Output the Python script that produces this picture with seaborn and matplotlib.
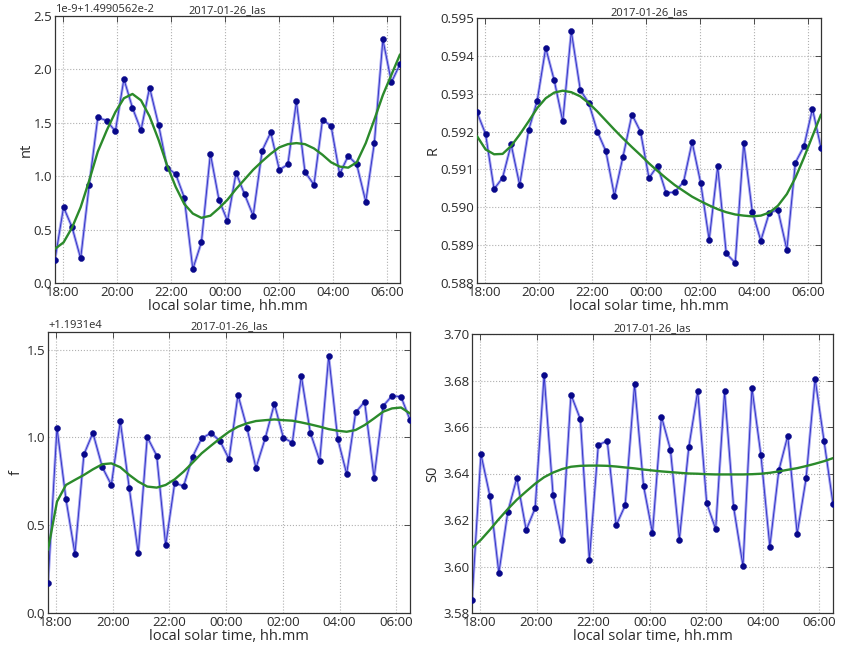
import matplotlib
matplotlib.use("Agg")
import matplotlib.pyplot as plt
import matplotlib.dates as mdates
import matplotlib.ticker as mticker
import pandas as pd
import seaborn as sns

# ---------------- data ----------------
times = ["2017-01-26 17:43", "2017-01-26 18:02", "2017-01-26 18:21", "2017-01-26 18:40",
         "2017-01-26 18:59", "2017-01-26 19:18", "2017-01-26 19:38", "2017-01-26 19:57",
         "2017-01-26 20:16", "2017-01-26 20:35", "2017-01-26 20:54", "2017-01-26 21:13",
         "2017-01-26 21:33", "2017-01-26 21:52", "2017-01-26 22:11", "2017-01-26 22:30",
         "2017-01-26 22:49", "2017-01-26 23:08", "2017-01-26 23:28", "2017-01-26 23:47",
         "2017-01-27 00:06", "2017-01-27 00:25", "2017-01-27 00:44", "2017-01-27 01:03",
         "2017-01-27 01:23", "2017-01-27 01:42", "2017-01-27 02:01", "2017-01-27 02:20",
         "2017-01-27 02:39", "2017-01-27 02:58", "2017-01-27 03:18", "2017-01-27 03:37",
         "2017-01-27 03:56", "2017-01-27 04:15", "2017-01-27 04:34", "2017-01-27 04:53",
         "2017-01-27 05:13", "2017-01-27 05:32", "2017-01-27 05:51", "2017-01-27 06:10",
         "2017-01-27 06:29"]

# nt (shown as 1e-9 * value + 1.4990562e-2)
nt = [0.22, 0.71, 0.52, 0.23, 0.92, 1.55, 1.52, 1.42, 1.91, 1.64, 1.43, 1.83, 1.48, 1.08,
      1.02, 0.80, 0.13, 0.38, 1.21, 0.78, 0.58, 1.03, 0.83, 0.63, 1.24, 1.41, 1.06, 1.11,
      1.70, 1.04, 0.92, 1.53, 1.47, 1.02, 1.19, 1.11, 0.76, 1.31, 2.28, 1.88, 2.05]
nt_fit = [0.32, 0.38, 0.52, 0.71, 0.96, 1.23, 1.43, 1.60, 1.73, 1.77, 1.71, 1.56, 1.34, 1.10,
          0.90, 0.74, 0.65, 0.61, 0.63, 0.70, 0.78, 0.88, 0.97, 1.06, 1.14, 1.21, 1.27, 1.30,
          1.31, 1.30, 1.26, 1.20, 1.13, 1.09, 1.08, 1.13, 1.31, 1.53, 1.76, 1.95, 2.14]

R = [0.59251, 0.59194, 0.59048, 0.59078, 0.59166, 0.59059, 0.59204, 0.59281, 0.59421,
     0.59335, 0.59227, 0.59465, 0.59310, 0.59275, 0.59200, 0.59148, 0.59031, 0.59133,
     0.59245, 0.59200, 0.59077, 0.59110, 0.59038, 0.59040, 0.59067, 0.59172, 0.59065,
     0.58914, 0.59108, 0.58878, 0.58853, 0.59170, 0.58988, 0.58912, 0.58986, 0.58993,
     0.58888, 0.59118, 0.59161, 0.59260, 0.59157]
R_fit = [0.59188, 0.59153, 0.59140, 0.59141, 0.59162, 0.59192, 0.59227, 0.59262, 0.59288,
         0.59303, 0.59308, 0.59304, 0.59293, 0.59275, 0.59253, 0.59229, 0.59205, 0.59182,
         0.59159, 0.59138, 0.59116, 0.59096, 0.59077, 0.59059, 0.59043, 0.59028, 0.59016,
         0.59005, 0.58995, 0.58987, 0.58981, 0.58978, 0.58976, 0.58978, 0.58986, 0.59004,
         0.59035, 0.59078, 0.59131, 0.59188, 0.59245]

# f (shown as value + 1.1931e4)
f = [0.17, 1.055, 0.648, 0.337, 0.903, 1.025, 0.830, 0.729, 1.091, 0.710, 0.341, 1.002,
     0.896, 0.386, 0.739, 0.723, 0.890, 0.994, 1.025, 0.979, 0.877, 1.242, 1.055, 0.826,
     0.998, 1.191, 0.998, 0.970, 1.350, 1.027, 0.867, 1.464, 0.992, 0.792, 1.142, 1.203,
     0.769, 1.178, 1.237, 1.231, 1.100]
f_fit = [0.36, 0.634, 0.729, 0.758, 0.786, 0.818, 0.847, 0.852, 0.830, 0.786, 0.748, 0.720,
         0.714, 0.729, 0.761, 0.805, 0.856, 0.909, 0.953, 0.994, 1.032, 1.061, 1.080, 1.093,
         1.098, 1.102, 1.098, 1.095, 1.085, 1.074, 1.061, 1.047, 1.038, 1.032, 1.042, 1.070,
         1.108, 1.146, 1.165, 1.170, 1.136]

S0 = [3.5854, 3.6483, 3.6303, 3.5972, 3.6235, 3.6380, 3.6157, 3.6251, 3.6824, 3.6308,
      3.6114, 3.6739, 3.6633, 3.6028, 3.6523, 3.6540, 3.6177, 3.6263, 3.6785, 3.6347,
      3.6144, 3.6645, 3.6503, 3.6116, 3.6513, 3.6755, 3.6273, 3.6161, 3.6754, 3.6257,
      3.6002, 3.6768, 3.6480, 3.6086, 3.6413, 3.6562, 3.6141, 3.6380, 3.6808, 3.6540,
      3.6270]
S0_fit = [3.6079, 3.6115, 3.6158, 3.6204, 3.6247, 3.6287, 3.6323, 3.6356, 3.6384, 3.6404,
          3.6419, 3.6429, 3.6433, 3.6434, 3.6434, 3.6433, 3.6430, 3.6426, 3.6422, 3.6417,
          3.6413, 3.6409, 3.6406, 3.6403, 3.6400, 3.6399, 3.6397, 3.6396, 3.6396, 3.6396,
          3.6396, 3.6397, 3.6399, 3.6403, 3.6409, 3.6416, 3.6423, 3.6432, 3.6442, 3.6453,
          3.6466]

title = "2017-01-26_las"
xlabel = "local solar time, hh.mm"

# ---------------- style ----------------
sns.set_style("white")
plt.rcParams["font.family"] = ["Open Sans", "DejaVu Sans"]
plt.rcParams["axes.unicode_minus"] = False

fig = plt.figure(figsize=(8.43, 6.5), dpi=100)
W, H = 843.0, 650.0


def make_axes(left, right, top, bottom):
    return fig.add_axes([left / W, (H - bottom) / H, (right - left) / W, (bottom - top) / H])


panels = [
    dict(rect=(55, 400, 16, 283), y=nt, fit=nt_fit, ylabel="nt", ylim=(0.0, 2.5), step=0.5,
         fmt="%.1f", offset="1e-9+1.4990562e-2", ylabx=-0.062),
    dict(rect=(477, 821, 18, 283), y=R, fit=R_fit, ylabel="R", ylim=(0.588, 0.595), step=0.001,
         fmt="%.3f", offset=None, ylabx=-0.106),
    dict(rect=(48, 410, 332, 613), y=f, fit=f_fit, ylabel="f", ylim=(0.0, 1.6), step=0.5,
         fmt="%.1f", offset="+1.1931e4", ylabx=-0.067),
    dict(rect=(472, 833, 334, 613), y=S0, fit=S0_fit, ylabel="S0", ylim=(3.58, 3.70), step=0.02,
         fmt="%.2f", offset=None, ylabx=-0.087),
]

t = pd.to_datetime(times)
text_color = "#2a2a2a"

for p in panels:
    ax = make_axes(*p["rect"])
    df = pd.DataFrame({"time": t, "val": p["y"], "fit": p["fit"]})
    sns.lineplot(data=df, x="time", y="val", ax=ax, color="#8a8aec", lw=2.0, alpha=0.8,
                 sort=False, estimator=None)
    sns.lineplot(data=df, x="time", y="val", ax=ax, color="#2a2ac4", lw=0.6,
                 sort=False, estimator=None)
    sns.scatterplot(data=df, x="time", y="val", ax=ax, color="#08088a", s=19,
                    edgecolor="#08088a", linewidth=0.3, zorder=5)
    sns.lineplot(data=df, x="time", y="fit", ax=ax, color="#2b8a2b", lw=1.7,
                 sort=False, estimator=None, zorder=6)

    ax.set_xlim(t[0], t[-1])
    ax.set_ylim(*p["ylim"])
    ax.xaxis.set_major_locator(mdates.HourLocator(byhour=range(0, 24, 2)))
    ax.xaxis.set_major_formatter(mdates.DateFormatter("%H:%M"))
    ax.yaxis.set_major_locator(mticker.MultipleLocator(p["step"]))
    ax.yaxis.set_major_formatter(mticker.FormatStrFormatter(p["fmt"]))

    ax.grid(True, color="#b0b0b0", linestyle=":", linewidth=0.8)
    for s in ax.spines.values():
        s.set_color("#333333")
        s.set_linewidth(0.9)
    ax.tick_params(axis="both", which="major", direction="in", length=4, width=0.6,
                   top=True, right=True, labelsize=9.5, colors="#333333",
                   labelcolor=text_color, pad=2)

    ax.set_xlabel(xlabel, fontsize=10.5, color=text_color, labelpad=0)
    ax.set_ylabel(p["ylabel"], fontsize=10.5, color=text_color)
    ax.yaxis.set_label_coords(p["ylabx"], 0.5)
    ax.set_title(title, fontsize=8, color=text_color, pad=2)
    if p["offset"]:
        ax.text(0.0, 1.003, p["offset"], transform=ax.transAxes, fontsize=8,
                color=text_color, ha="left", va="bottom")

fig.savefig("out.png", dpi=100)
